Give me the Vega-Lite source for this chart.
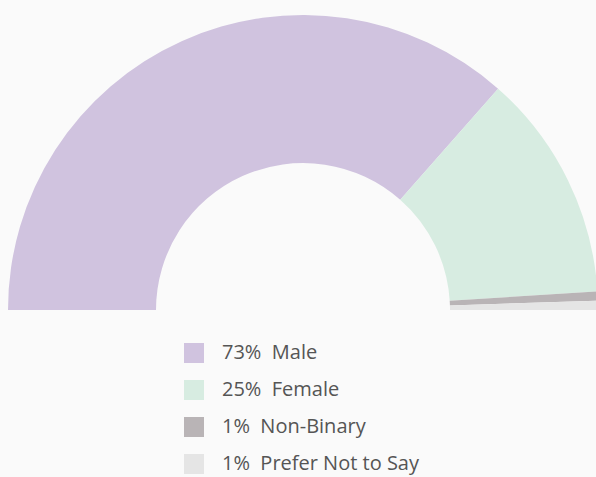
{
  "$schema": "https://vega.github.io/schema/vega-lite/v6.json",
  "autosize": "none",
  "width": 586,
  "height": 334,
  "padding": {"left": 10, "top": 143, "right": 0, "bottom": 0},
  "background": "#fafafa",
  "view": {"stroke": null},
  "data": {
    "values": [
      {"label": "73%\u00a0 Male", "pct": 73, "rank": 1},
      {"label": "25%\u00a0 Female", "pct": 25, "rank": 2},
      {"label": "1%\u00a0 Non-Binary", "pct": 1, "rank": 3},
      {"label": "1%\u00a0 Prefer Not to Say", "pct": 1, "rank": 4}
    ]
  },
  "mark": {"type": "arc", "outerRadius": 295, "innerRadius": 147},
  "encoding": {
    "theta": {
      "field": "pct",
      "type": "quantitative",
      "stack": true,
      "scale": {"domain": [0, 100], "range": [-1.5708, 1.5708]}
    },
    "order": {"field": "rank", "type": "quantitative"},
    "color": {
      "field": "label",
      "type": "nominal",
      "sort": null,
      "scale": {
        "domain": ["73%\u00a0 Male", "25%\u00a0 Female", "1%\u00a0 Non-Binary", "1%\u00a0 Prefer Not to Say"],
        "range": ["#d0c3df", "#d7ece1", "#b9b4b6", "#e5e5e5"]
      },
      "legend": {
        "title": null,
        "orient": "none",
        "legendX": 174,
        "legendY": 200,
        "symbolType": "square",
        "symbolSize": 400,
        "symbolStrokeWidth": 0,
        "symbolOpacity": 1,
        "labelFont": "Open Sans",
        "labelFontSize": 20,
        "labelFontWeight": "normal",
        "labelColor": "#555555",
        "labelOffset": 18,
        "rowPadding": 17,
        "labelLimit": 400
      }
    }
  }
}
